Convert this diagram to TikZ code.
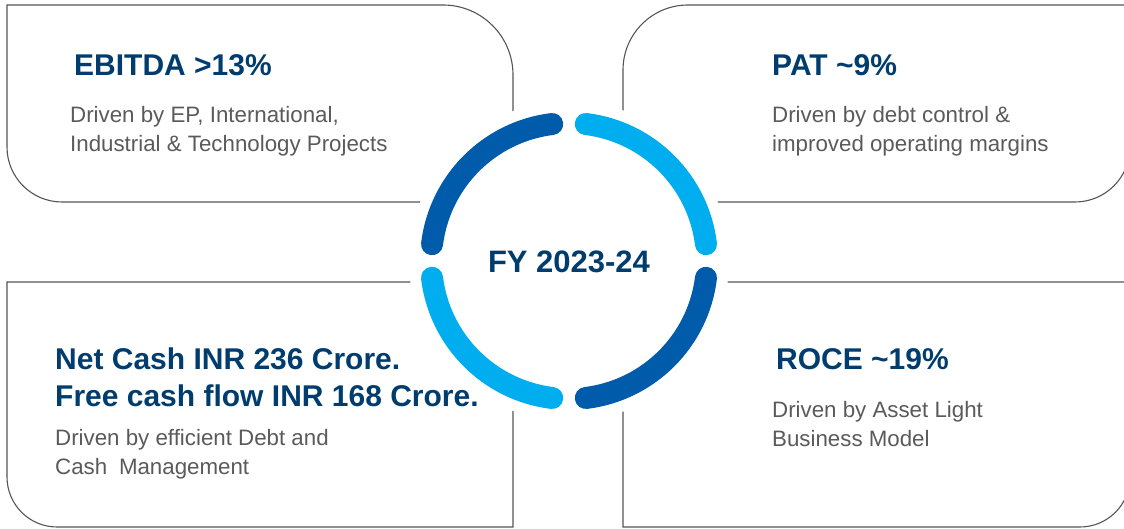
\documentclass[tikz,border=0pt]{standalone}
\usepackage{fontspec}
\setmainfont{Liberation Sans}
\usetikzlibrary{positioning}

\definecolor{navy}{HTML}{003D6E}
\definecolor{darkring}{HTML}{005BAA}
\definecolor{lightring}{HTML}{00AEEF}
\definecolor{bodygray}{HTML}{5A5A5A}
\definecolor{edgegray}{HTML}{555555}

\tikzset{
  box/.style={draw=edgegray, line width=1.1pt},
  title/.style={anchor=base west, inner sep=0pt, align=left, text=navy,
    font=\fontsize{30}{37}\selectfont\bfseries},
  body/.style={anchor=base west, inner sep=0pt, align=left, text=bodygray,
    font=\fontsize{22.3}{29}\selectfont},
}

\begin{document}
\begin{tikzpicture}[x=1pt, y=1pt]
\useasboundingbox (0,0) rectangle (1124,529);
\clip (0,0) rectangle (1124,529);
% the four boxes
\draw[box] (7,382) -- (7,524) -- (443,524) arc[start angle=90, end angle=0, radius=70] -- (513,327) -- (62,327) arc[start angle=270, end angle=180, radius=55];
\draw[box] (623,327) -- (623,459) arc[start angle=180, end angle=90, radius=65] -- (1130,524) -- (1130,382) arc[start angle=0, end angle=-90, radius=55] -- cycle;
\draw[box] (7,52) -- (7,247) -- (513,247) -- (513,2) -- (57,2) arc[start angle=270, end angle=180, radius=50];
\draw[box] (623,2) -- (623,247) -- (1130,247) -- (1130,52) arc[start angle=0, end angle=-90, radius=50] -- cycle;
% ring in the middle
\fill[white] (569,268) circle[radius=160];
\foreach \a/\c in {7/lightring, 97/darkring, 187/lightring, 277/darkring}
  \draw[\c, line width=22pt, line cap=round] (569,268) ++(\a:138) arc[start angle=\a, delta angle=76, radius=138];
\node (fy) at (569,267) [text=navy, font=\fontsize{31}{36}\selectfont\bfseries] {FY 2023-24};
% texts (multi-line nodes sit on their last baseline)
\node (ebitda) at (74,453) [title] {EBITDA >13\%};
\node (ebitdanote) at (70,377) [body] {Driven by EP, International,\\Industrial \& Technology Projects};
\node (pat) at (772,453) [title] {PAT \textasciitilde 9\%};
\node (patnote) at (772,377) [body] {Driven by debt control \&\\improved operating margins};
\node (cash) at (55,122) [title] {Net Cash INR 236 Crore.\\Free cash flow INR 168 Crore.};
\node (cashnote) at (55,54) [body] {Driven by efficient Debt and\\Cash\hspace{0.25em} Management};
\node (roce) at (776,159) [title] {ROCE \textasciitilde 19\%};
\node (rocenote) at (772,82) [body] {Driven by Asset Light\\Business Model};
\end{tikzpicture}
\end{document}
